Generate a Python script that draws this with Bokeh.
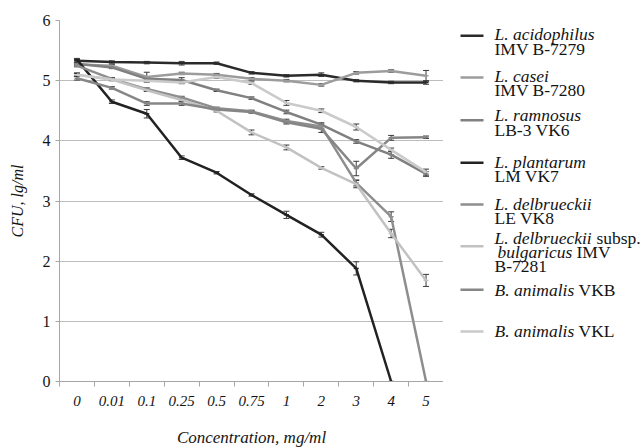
from bokeh.plotting import figure
from bokeh.models import (Range1d, FixedTicker, Whisker, ColumnDataSource, TeeHead)
from bokeh.layouts import row
from bokeh.core.properties import value
from bokeh.embed import file_html
from bokeh.resources import INLINE

nan = float("nan")

# ---- data -------------------------------------------------------------
conc_labels = ["0", "0.01", "0.1", "0.25", "0.5", "0.75", "1", "2", "3", "4", "5"]

acidophilus = [5.33, 5.31, 5.30, 5.29, 5.29, 5.13, 5.08, 5.10, 5.00, 4.97, 4.97]
acidophilus_err = [0.02, 0.02, 0.02, 0.03, 0.02, 0.02, 0.02, 0.03, 0.02, 0.02, 0.03]

casei = [5.27, 5.25, 5.06, 5.12, 5.10, 5.03, 5.00, 4.93, 5.13, 5.16, 5.08]
casei_err = [0.02, 0.02, 0.08, 0.02, 0.02, 0.02, 0.02, 0.02, 0.02, 0.02, 0.09]

ramnosus = [5.28, 5.22, 5.03, 5.01, 4.84, 4.71, 4.48, 4.27, 3.99, 3.77, 3.45]
ramnosus_err = [0.02, 0.02, 0.02, 0.04, 0.02, 0.02, 0.03, 0.03, 0.03, 0.06, 0.04]

plantarum = [5.35, 4.65, 4.45, 3.72, 3.47, 3.10, 2.77, 2.44, 1.88, 0.0, nan]
plantarum_err = [0.02, 0.03, 0.07, 0.03, 0.02, 0.02, 0.06, 0.04, 0.11, 0.0, nan]

delbrueckii_le = [5.25, 5.03, 4.86, 4.72, 4.54, 4.49, 4.33, 4.24, 3.30, 2.74, 0.0]
delbrueckii_le_err = [0.02, 0.02, 0.02, 0.02, 0.02, 0.02, 0.03, 0.04, 0.05, 0.08, 0.0]

bulgaricus = [5.10, 5.02, 4.84, 4.68, 4.50, 4.14, 3.89, 3.55, 3.28, 2.46, 1.68]
bulgaricus_err = [0.02, 0.02, 0.02, 0.02, 0.02, 0.04, 0.04, 0.02, 0.06, 0.07, 0.10]

animalis_vkb = [5.04, 4.88, 4.62, 4.62, 4.52, 4.48, 4.31, 4.20, 3.54, 4.05, 4.06]
animalis_vkb_err = [0.03, 0.02, 0.03, 0.03, 0.02, 0.02, 0.03, 0.06, 0.12, 0.04, 0.02]

animalis_vkl = [5.10, 5.02, 5.00, 4.97, 5.06, 4.96, 4.63, 4.50, 4.23, 3.85, 3.48]
animalis_vkl_err = [0.03, 0.02, 0.02, 0.02, 0.02, 0.02, 0.04, 0.03, 0.05, 0.03, 0.05]

y_ticks = [0, 1, 2, 3, 4, 5, 6]

series = [
    (acidophilus, acidophilus_err, "#2a2a2a"),
    (casei, casei_err, "#9c9c9c"),
    (ramnosus, ramnosus_err, "#808080"),
    (plantarum, plantarum_err, "#222222"),
    (delbrueckii_le, delbrueckii_le_err, "#8e8e8e"),
    (bulgaricus, bulgaricus_err, "#c2c2c2"),
    (animalis_vkb, animalis_vkb_err, "#868686"),
    (animalis_vkl, animalis_vkl_err, "#cacaca"),
]

# legend text lines: (x, y, text, style) in legend-panel pixels
legend_texts = [
    (494, 17, "L. acidophilus", "italic"), (494, 35, "IMV B-7279", "normal"),
    (494, 69, "L. casei", "italic"), (494, 87, "IMV B-7280", "normal"),
    (494, 118, "L. ramnosus", "italic"), (494, 136, "LB-3 VK6", "normal"),
    (494, 176, "L. plantarum", "italic"), (494, 194, "LM VK7", "normal"),
    (494, 228, "L. delbrueckii", "italic"), (494, 246, "LE VK8", "normal"),
    (494, 271, "L. delbrueckii", "italic"), (596, 271, "subsp.", "normal"),
    (497, 288, "bulgaricus", "italic"), (576, 288, "IMV", "normal"),
    (494, 305, "B-7281", "normal"),
    (494, 335, "B. animalis", "italic"), (578, 335, "VKB", "normal"),
    (494, 387, "B. animalis", "italic"), (578, 387, "VKL", "normal"),
]
legend_line_y = [19, 71, 124, 177, 229, 281, 335, 387]

FONT = "Liberation Serif"
TXT = "#141414"
AX = "#a6a6a6"

n = len(conc_labels)
xs = [i + 0.5 for i in range(n)]

p = figure(frame_width=384, frame_height=361,
           min_border_left=59, min_border_right=0,
           min_border_top=20, min_border_bottom=67,
           x_range=Range1d(0, n), y_range=Range1d(0, 6),
           output_backend="svg", toolbar_location=None,
           background_fill_color="white", border_fill_color="white")
p.outline_line_color = None

xa = p.xaxis[0]
xa.ticker = FixedTicker(ticks=xs, minor_ticks=list(range(n + 1)))
xa.major_label_overrides = {x: lab for x, lab in zip(xs, conc_labels)}
xa.major_tick_line_color = None
xa.major_tick_out = 5
xa.minor_tick_out = 5
xa.minor_tick_in = 0
xa.minor_tick_line_color = AX
xa.axis_line_color = AX
xa.major_label_standoff = 9
xa.major_label_text_font = FONT
xa.major_label_text_font_style = "italic"
xa.major_label_text_font_size = "15px"
xa.major_label_text_color = TXT
xa.axis_label = "Concentration, mg/ml"
xa.axis_label_text_font = FONT
xa.axis_label_text_font_style = "italic"
xa.axis_label_text_font_size = "17px"
xa.axis_label_text_color = TXT
xa.axis_label_standoff = 19

ya = p.yaxis[0]
ya.ticker = FixedTicker(ticks=y_ticks)
ya.minor_tick_line_color = None
ya.major_tick_out = 4
ya.major_tick_in = 0
ya.major_tick_line_color = AX
ya.axis_line_color = AX
ya.major_label_standoff = 5
ya.major_label_text_font = FONT
ya.major_label_text_font_size = "16px"
ya.major_label_text_color = TXT
ya.axis_label = "CFU, lg/ml"
ya.axis_label_text_font = FONT
ya.axis_label_text_font_style = "italic"
ya.axis_label_text_font_size = "16px"
ya.axis_label_text_color = TXT
ya.axis_label_standoff = 14

p.xgrid.visible = False
p.ygrid.grid_line_color = "#bdbdbd"
p.ygrid.grid_line_width = 1

colors = []
for vals, err, col in series:
    colors.append(col)
    p.line(xs, vals, line_color=col, line_width=2.5)
    p.scatter(xs, vals, marker="dash", size=5, line_color=col, line_width=1.5)
    up = [v + e for v, e in zip(vals, err)]
    lo = [v - e for v, e in zip(vals, err)]
    src = ColumnDataSource(dict(x=xs, upper=up, lower=lo))
    w = Whisker(source=src, base="x", upper="upper", lower="lower",
                line_color="#3a3a3a", line_width=1,
                upper_head=TeeHead(size=6, line_color="#3a3a3a", line_width=1),
                lower_head=TeeHead(size=6, line_color="#3a3a3a", line_width=1))
    p.add_layout(w)

# ---- legend panel -----------------------------------------------------
leg = figure(width=200, height=448, x_range=Range1d(443, 643), y_range=Range1d(448, 0),
             x_axis_location=None, y_axis_location=None, min_border=0,
             output_backend="svg", toolbar_location=None,
             background_fill_color="white", border_fill_color="white")
leg.outline_line_color = None
leg.grid.visible = False

leg.segment(x0=[460] * len(colors), y0=legend_line_y,
            x1=[483] * len(colors), y1=legend_line_y,
            line_color=colors, line_width=2.5)

for style in ("italic", "normal"):
    sel = [t for t in legend_texts if t[3] == style]
    leg.text(x=[t[0] for t in sel], y=[t[1] for t in sel], text=[t[2] for t in sel],
             text_font=value(FONT), text_font_style=value(style),
             text_font_size=value("17.5px"), text_color=TXT,
             text_baseline=value("middle"), text_align=value("left"))

layout = row(p, leg)
open("out.html", "w").write(file_html(layout, INLINE))
